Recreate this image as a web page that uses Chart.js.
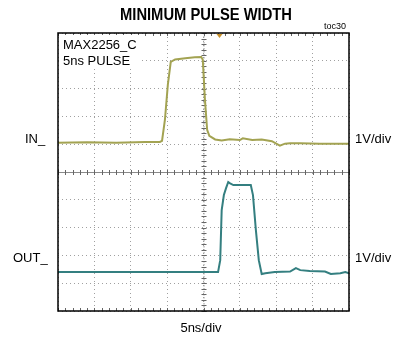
<!DOCTYPE html>
<html>
<head>
<meta charset="utf-8">
<script src="https://cdn.jsdelivr.net/npm/chart.js@4"></script>
<style>
  html, body { margin: 0; padding: 0; background: #fff; }
  #wrap { width: 397px; height: 341px; }
</style>
</head>
<body>
<div id="wrap"><canvas id="scope"></canvas></div>
<script>
// time axis, ns (5ns/div, 8 divisions)
const xTicks = [0, 5, 10, 15, 20, 25, 30, 35, 40];
// screen divisions, 1V/div (10 divisions)
const yTicks = [0, 1, 2, 3, 4, 5, 6, 7, 8, 9, 10];

// IN_ trace, volts above its baseline
const inTime = [0, 4, 8, 12, 14.0, 14.3, 14.7, 15.1, 15.5, 16.1, 17.5, 18.8, 19.7, 19.9, 20.2, 20.5, 20.8, 21.6, 22.5, 23.6, 25.0, 25.4, 26.7, 28.0, 29.4, 30.5, 31.2, 31.9, 33.3, 36, 40];
const inVolts = [0, 0.02, 0, 0.03, 0.03, 0.07, 0.83, 2.09, 2.91, 3.0, 3.04, 3.08, 3.09, 2.99, 1.55, 0.47, 0.25, 0.12, 0.08, 0.13, 0.1, 0.16, 0.1, 0.12, 0.06, -0.1, -0.03, -0.02, -0.02, -0.03, -0.03];

// OUT_ trace, volts above its baseline
const outTime = [0, 10, 20, 22.0, 22.3, 22.5, 22.8, 23.1, 23.4, 23.6, 24.1, 25.0, 26.5, 26.8, 27.2, 27.6, 28.0, 28.5, 29.8, 31.9, 32.7, 33.3, 34.6, 36.7, 37.5, 38.8, 39.5, 40];
const outVolts = [0, 0, 0, 0, 0.43, 2.23, 2.77, 3.02, 3.24, 3.2, 3.13, 3.13, 3.13, 2.77, 1.51, 0.43, -0.07, -0.04, 0, 0.02, 0.14, 0.07, 0.04, 0.02, -0.07, -0.04, 0, -0.04];

// where each channel's ground sits on screen (in divisions)
const IN_OFFSET = 6.05;
const OUT_OFFSET = 1.4;

function toPoints(ts, vs, off) {
  return ts.map((t, i) => ({ x: t, y: vs[i] + off }));
}

// graticule: border, centre cross with minor ticks, labels
const scopeDecor = {
  id: "scopeDecor",
  beforeDatasetsDraw(chart) {
    const { ctx, chartArea: a, scales } = chart;
    const xs = scales.x, ys = scales.y;
    ctx.save();
    const cx = xs.getPixelForValue(20), cy = ys.getPixelForValue(5);
    ctx.strokeStyle = "#8a8a8a";
    ctx.lineWidth = 1;
    ctx.beginPath();
    ctx.moveTo(a.left, cy + 0.5); ctx.lineTo(a.right, cy + 0.5);
    ctx.stroke();
    ctx.setLineDash([1.5, 1.5]);
    ctx.strokeStyle = "#9a9a9a";
    ctx.beginPath();
    ctx.moveTo(cx + 0.5, a.top); ctx.lineTo(cx + 0.5, a.bottom);
    ctx.stroke();
    ctx.setLineDash([]);
    ctx.strokeStyle = "#666";
    ctx.beginPath();
    for (let t = 0; t <= 40.001; t += 1) {
      const px = Math.round(xs.getPixelForValue(t)) + 0.5;
      ctx.moveTo(px, cy - 2); ctx.lineTo(px, cy + 3);
      ctx.moveTo(px, a.top); ctx.lineTo(px, a.top + 3);
      ctx.moveTo(px, a.bottom); ctx.lineTo(px, a.bottom - 3);
    }
    for (let d = 0; d <= 10.001; d += 0.2) {
      const py = Math.round(ys.getPixelForValue(d)) + 0.5;
      ctx.moveTo(cx - 2, py); ctx.lineTo(cx + 3, py);
    }
    ctx.stroke();
    // white box behind the part name
    ctx.fillStyle = "#fff";
    ctx.fillRect(a.left + 1, a.top + 2, 80, 34);
    ctx.restore();
  },
  afterDraw(chart) {
    const { ctx, chartArea: a, scales } = chart;
    ctx.save();
    ctx.strokeStyle = "#000";
    ctx.lineWidth = 1.5;
    ctx.strokeRect(a.left, a.top, a.right - a.left, a.bottom - a.top);

    // trigger marker
    const tx = scales.x.getPixelForValue(22.2);
    ctx.fillStyle = "#c8902a";
    ctx.beginPath();
    ctx.moveTo(tx - 3, a.top + 1); ctx.lineTo(tx + 3, a.top + 1); ctx.lineTo(tx, a.top + 5);
    ctx.closePath(); ctx.fill();

    ctx.fillStyle = "#000";
    ctx.textBaseline = "middle";
    // title, squeezed to the narrow face of the original
    ctx.font = "bold 17px 'Liberation Sans Narrow', 'Liberation Sans', Arial, sans-serif";
    const title = "MINIMUM PULSE WIDTH";
    const w = ctx.measureText(title).width;
    const s = 172 / w;
    ctx.save();
    ctx.translate(206, 15);
    ctx.scale(s, 1);
    ctx.textAlign = "center";
    ctx.fillText(title, 0, 0);
    ctx.restore();

    ctx.font = "9px 'Liberation Sans', Arial, sans-serif";
    ctx.textAlign = "right";
    ctx.fillText("toc30", 346, 27);

    ctx.font = "13px 'Liberation Sans', Arial, sans-serif";
    ctx.textAlign = "left";
    ctx.fillText("MAX2256_C", 63, 45);
    ctx.fillText("5ns PULSE", 63, 61);
    ctx.fillText("IN_", 25, 139);
    ctx.fillText("OUT_", 13, 258);
    ctx.fillText("1V/div", 355, 139);
    ctx.fillText("1V/div", 355, 258);
    ctx.textAlign = "center";
    ctx.fillText("5ns/div", 201, 328);
    ctx.restore();
  }
};

const gridOpts = { color: "#a0a0a0", drawTicks: false, lineWidth: 1 };
const borderOpts = { display: false, dash: [1, 3] };

new Chart(document.getElementById("scope"), {
  type: "line",
  data: {
    datasets: [
      {
        label: "IN_",
        data: toPoints(inTime, inVolts, IN_OFFSET),
        borderColor: "#a3a352",
        borderWidth: 2,
        pointRadius: 0,
        tension: 0,
      },
      {
        label: "OUT_",
        data: toPoints(outTime, outVolts, OUT_OFFSET),
        borderColor: "#347f80",
        borderWidth: 2,
        pointRadius: 0,
        tension: 0,
      },
    ],
  },
  options: {
    responsive: true,
    maintainAspectRatio: false,
    animation: false,
    layout: { padding: { left: 58, right: 48, top: 33, bottom: 30 } },
    plugins: { legend: { display: false }, tooltip: { enabled: false }, title: { display: false } },
    scales: {
      x: {
        type: "linear",
        min: 0,
        max: 40,
        afterBuildTicks: (axis) => { axis.ticks = xTicks.map((v) => ({ value: v })); },
        ticks: { display: false },
        border: borderOpts,
        grid: gridOpts,
      },
      y: {
        type: "linear",
        min: 0,
        max: 10,
        afterBuildTicks: (axis) => { axis.ticks = yTicks.map((v) => ({ value: v })); },
        ticks: { display: false },
        border: borderOpts,
        grid: gridOpts,
      },
    },
  },
  plugins: [scopeDecor],
});
</script>
</body>
</html>
